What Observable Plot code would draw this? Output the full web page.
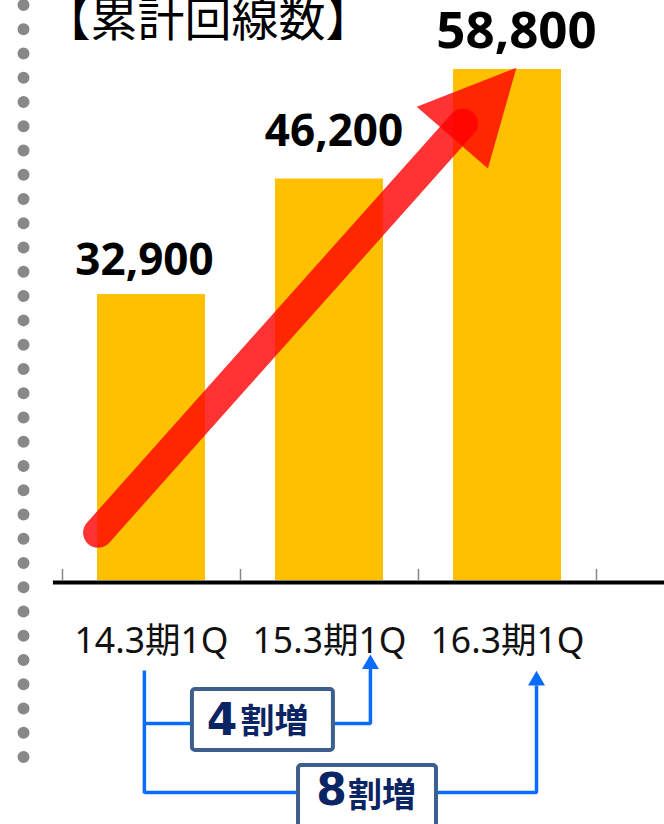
<!DOCTYPE html>
<html>
<head>
<meta charset="utf-8">
<script src="https://cdn.jsdelivr.net/npm/d3@7"></script>
<script src="https://cdn.jsdelivr.net/npm/@observablehq/plot@0.6"></script>
<style>
  html, body { margin: 0; padding: 0; background: #fff; }
  #chart { width: 664px; height: 824px; overflow: hidden; }
  svg { display: block; }
</style>
</head>
<body>
<div id="chart"></div>
<script>
// ---- data ----
const titleText = "【累計回線数】";
const categories = ["14.3期1Q", "15.3期1Q", "16.3期1Q"];
const lineCounts = [32900, 46200, 58800];
const growthLabels = [
  {num: "4", unit: "割増"},
  {num: "8", unit: "割増"}
];

// annotation geometry in data space (x: category index, y: line count)
const trendShaft = [{x: -0.3, y: 5500}, {x: 1.75, y: 52600}];
const trendHead = [{x: 2.05, y: 59000}, {x: 1.49, y: 54500}, {x: 1.89, y: 47400}, {x: 2.05, y: 59000}];
const bracketPaths = [
  {id: "stem", pts: [[-0.04, -10360], [-0.04, -24500]]},
  {id: "to15", pts: [[-0.04, -16455], [1.23, -16455], [1.23, -10130]]},
  {id: "to16", pts: [[-0.04, -24395], [2.163, -24395], [2.163, -12080]]}
];
const bracketHeads = [{x: 1.23, y: -9630}, {x: 2.163, y: -11510}];
const growthBoxes = [
  {x1: 0.23, x2: 1.022, y1: -12543, y2: -19562},
  {x1: 0.826, x2: 1.601, y1: -21288, y2: -28400}
];
const growthNumPos = [{x: 0.396, y: -16150}, {x: 1.011, y: -24250}];
const growthUnitPos = [{x: 0.691, y: -16300}, {x: 1.295, y: -24780}];

// ---- build table ----
const rows = categories.map((c, i) => ({i, category: c, value: lineCounts[i]}));

// label styling per bar
const valueLabelStyle = [
  {dx: -7, dy: -33.5, size: 44},
  {dx: 4.5, dy: -47, size: 44},
  {dx: 9, dy: -38, size: 51}
];

const bracketRows = bracketPaths.flatMap(p => p.pts.map(([x, y]) => ({id: p.id, x, y})));

const FONT = "'Noto Sans', 'Noto Sans CJK JP', sans-serif";
const CJK = "'Noto Sans CJK JP', 'Noto Sans', sans-serif";
const BLUE = "#0A6CFF";

const plot = Plot.plot({
  width: 664,
  height: 824,
  margin: 0,
  style: {background: "#fff", fontFamily: FONT},
  x: {type: "linear", domain: [-0.5, 2.5], range: [62, 596], axis: null},
  y: {type: "linear", domain: [-28077, 66740], range: [824, 0], axis: null},
  marks: [
    // left dotted border
    Plot.ruleX([-0.719], {y1: 66165, y2: -20490, stroke: "#888", strokeWidth: 12, strokeLinecap: "round", strokeDasharray: "0 24.26"}),
    // bars
    Plot.rectY(rows, {x1: d => d.i - 0.5, x2: d => d.i + 0.5, y1: 0, y2: "value", insetLeft: 35, insetRight: 35, fill: "#FFC000"}),
    // tick marks
    Plot.ruleX([-0.5, 0.5, 1.5, 2.5], {y1: 0, y2: 1270, stroke: "#888", strokeWidth: 1.5}),
    // baseline
    Plot.ruleY([0], {x1: -0.551, x2: 2.9, stroke: "#000", strokeWidth: 4, dy: 2}),
    // value labels
    ...rows.map((r, k) => Plot.text([r], {
      x: "i", y: "value", text: d => d3.format(",")(d.value),
      dx: valueLabelStyle[k].dx, dy: valueLabelStyle[k].dy,
      fontSize: valueLabelStyle[k].size, fontWeight: "bold", fill: "#000", fontFamily: FONT
    })),
    // trend arrow
    Plot.line(trendShaft, {x: "x", y: "y", stroke: "#FF0000", strokeWidth: 30, strokeLinecap: "round", strokeOpacity: 0.8}),
    Plot.line(trendHead, {x: "x", y: "y", fill: "#FF0000", fillOpacity: 0.8, stroke: "none", curve: "linear"}),
    // category labels
    Plot.text(rows, {x: "i", y: () => -7000, text: "category", fontSize: 35.5, fill: "#111", fontFamily: FONT}),
    // brackets
    Plot.line(bracketRows, {x: "x", y: "y", z: "id", stroke: BLUE, strokeWidth: 3.5, strokeLinejoin: "miter", strokeLinecap: "butt"}),
    Plot.dot(bracketHeads, {x: "x", y: "y", symbol: "triangle", r: 6.3, fill: BLUE, stroke: "none"}),
    Plot.rect(growthBoxes, {x1: "x1", x2: "x2", y1: "y1", y2: "y2", fill: "#fff", stroke: "#3C5F8E", strokeWidth: 4, rx: 3}),
    Plot.text(growthLabels, {x: (d, i) => growthNumPos[i].x, y: (d, i) => growthNumPos[i].y, text: "num", fontSize: 44, fontWeight: "bold", fill: "#0B2463", fontFamily: "'DejaVu Sans', sans-serif"}),
    Plot.text(growthLabels, {x: (d, i) => growthUnitPos[i].x, y: (d, i) => growthUnitPos[i].y, text: "unit", fontSize: 34, fontWeight: "bold", fill: "#0B2463", fontFamily: CJK}),
    // title
    Plot.text([titleText], {frameAnchor: "top-left", textAnchor: "start", lineAnchor: "top", dx: 43, dy: 2, fontSize: 47, fill: "#000", fontFamily: CJK})
  ]
});
document.getElementById("chart").appendChild(plot);
</script>
</body>
</html>
